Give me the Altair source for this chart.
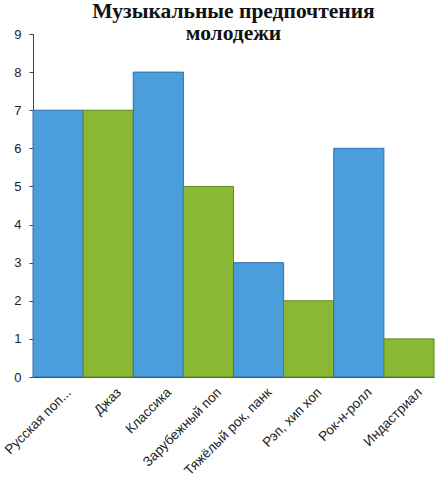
import altair as alt
import pandas as pd

genres = ["Русская поп...", "Джаз", "Классика", "Зарубежный поп",
          "Тяжёлый рок, панк", "Рэп, хип хоп", "Рок-н-ролл", "Индастриал"]
votes = [7, 7, 8, 5, 3, 2, 6, 1]
groups = ["a", "b", "a", "b", "a", "b", "a", "b"]

df = pd.DataFrame({"genre": genres, "votes": votes, "grp": groups})

chart = alt.Chart(df).mark_bar(strokeWidth=1).encode(
    x=alt.X("genre:N", sort=genres, title=None,
            scale=alt.Scale(paddingInner=0, paddingOuter=0),
            axis=alt.Axis(labelAngle=-45, labelAlign="right", labelBaseline="top",
                          labelFont="Liberation Sans", labelFontSize=13.5,
                          labelColor="#222", ticks=False, domainColor="#444",
                          labelPadding=8, labelOffset=6)),
    y=alt.Y("votes:Q", title=None,
            scale=alt.Scale(domain=[0, 9], nice=False),
            axis=alt.Axis(values=list(range(10)), grid=False, domainColor="#444",
                          tickColor="#444", tickSize=4, labelFont="Liberation Sans",
                          labelFontSize=13, labelColor="#222", labelPadding=8)),
    color=alt.Color("grp:N", legend=None,
                    scale=alt.Scale(domain=["a", "b"], range=["#4c9ddc", "#8bb834"])),
    stroke=alt.Stroke("grp:N", legend=None,
                      scale=alt.Scale(domain=["a", "b"], range=["#2f6fa8", "#5f8a1f"])),
).properties(
    width=401,
    height=343,
    title=alt.TitleParams(["Музыкальные предпочтения", "молодежи"],
                          font="Liberation Serif", fontSize=21.5, fontWeight="bold",
                          color="#111", anchor="middle", lineHeight=22, offset=-16),
    padding={"left": 33, "top": 34, "right": 2, "bottom": 107},
    autosize=alt.AutoSizeParams(type="none"),
).configure_view(stroke=None)

chart.save("out.html", embed_options={"renderer": "svg", "actions": False})
